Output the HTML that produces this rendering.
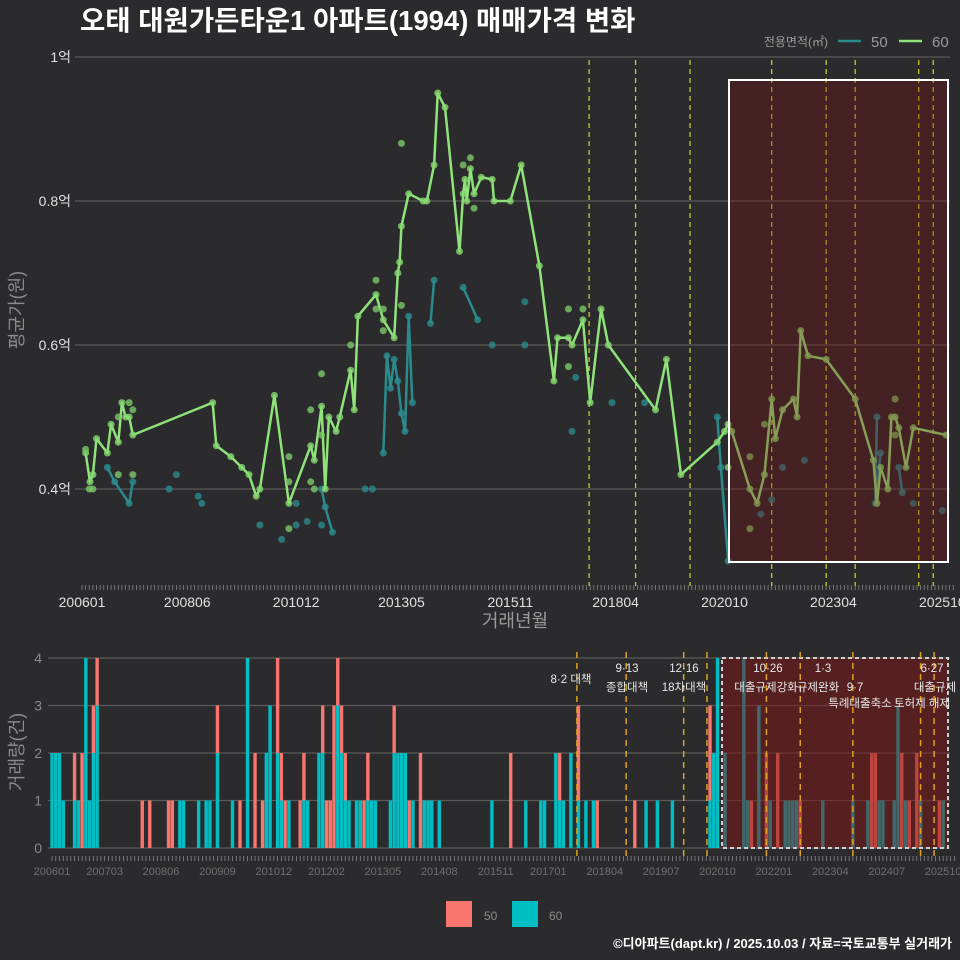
<!DOCTYPE html>
<html><head><meta charset="utf-8">
<style>
html,body{margin:0;padding:0;background:#2b2b2d;}
svg{display:block;font-family:"Liberation Sans","Noto Sans CJK KR",sans-serif;}
</style></head>
<body>
<svg id="chart" width="960" height="960" viewBox="0 0 960 960" xmlns="http://www.w3.org/2000/svg">
<rect x="0" y="0" width="960" height="960" fill="#2b2b2d"/>
<text x="80" y="30" fill="#ffffff" font-size="27.5" font-weight="bold">오태 대원가든타운1 아파트(1994) 매매가격 변화</text>
<g>
<text x="828" y="46" fill="#9a9a9a" font-size="12" text-anchor="end">전용면적(㎡)</text>
<line x1="838" y1="41" x2="861" y2="41" stroke="#2a8a8c" stroke-width="2.5"/>
<text x="871" y="47" fill="#9a9a9a" font-size="15">50</text>
<line x1="899" y1="41" x2="922" y2="41" stroke="#90e27a" stroke-width="2.5"/>
<text x="932" y="47" fill="#9a9a9a" font-size="15">60</text>
</g>
<g id="topPanel"></g>
<g id="botPanel"></g>
<g>
<rect x="446" y="901" width="26" height="26" fill="#f8766d"/>
<text x="484" y="920" fill="#8a8a8a" font-size="12">50</text>
<rect x="512" y="901" width="26" height="26" fill="#00bfc4"/>
<text x="549" y="920" fill="#8a8a8a" font-size="12">60</text>
</g>
<text x="952" y="948" fill="#ffffff" font-size="13" font-weight="bold" text-anchor="end">©디아파트(dapt.kr) / 2025.10.03 / 자료=국토교통부 실거래가</text>
</svg>
<script>
// ---- price chart data (month index from 2006-01, value in 억) ----
const gMonths = [1,2.2,3,4,7,8,10,11,12,13,14,36,37,41,44,46,48,49,53,57,63,64,66,67,68,70,71,74,75,76,81,83,86,87,87.5,88,90,94,95,97,98,100,104,105,105.5,106,107,108,110,113,113.5,118,121,126,130,131,134,135,138,140,143,145,158,161,165,175,177,178,179,184,186,188,190,191,193,196,197,198,200,205,213,218,219,220,222,223,224,225,227,229,238];
const gVals = [0.45,0.41,0.42,0.47,0.45,0.49,0.465,0.52,0.50,0.50,0.475,0.52,0.46,0.445,0.43,0.42,0.39,0.40,0.53,0.38,0.46,0.44,0.515,0.40,0.50,0.48,0.50,0.565,0.51,0.64,0.67,0.635,0.61,0.70,0.715,0.765,0.81,0.80,0.80,0.85,0.95,0.93,0.73,0.81,0.83,0.80,0.845,0.81,0.833,0.83,0.80,0.80,0.85,0.71,0.55,0.61,0.61,0.60,0.635,0.52,0.65,0.60,0.51,0.58,0.42,0.465,0.48,0.49,0.48,0.40,0.38,0.42,0.525,0.47,0.51,0.525,0.50,0.62,0.585,0.58,0.525,0.44,0.38,0.43,0.40,0.50,0.50,0.485,0.43,0.485,0.475];
const gDotMonths = [1,2,3,10,10,14,13,14,57,57,63,63,64,66,66,74,81,81,83,83,88,88,105,107,108,57,134,138,134,184,184,188,224,224,178];
const gDotVals = [0.455,0.40,0.40,0.50,0.42,0.42,0.52,0.51,0.445,0.41,0.51,0.41,0.40,0.56,0.475,0.60,0.69,0.65,0.65,0.62,0.88,0.655,0.85,0.86,0.79,0.345,0.65,0.65,0.57,0.445,0.345,0.49,0.525,0.475,0.43];
const tSegMonths = [[7,9,13,14],[66,67,69],[83,84,85,86,87,88,89,90,91],[96,97],[105,109],[175,176,178],[219,218.5,220],[225,226]];
const tSegVals = [[0.43,0.41,0.38,0.41],[0.40,0.375,0.34],[0.45,0.585,0.54,0.58,0.55,0.505,0.48,0.64,0.52],[0.63,0.69],[0.68,0.635],[0.50,0.43,0.30],[0.50,0.38,0.45],[0.43,0.395]];
const tDotMonths = [24,26,32,33,49,55,59,59,62,66,78,80,113,122,122,135,136,146,155,187,190,193,199,229,237];
const tDotVals = [0.40,0.42,0.39,0.38,0.35,0.33,0.35,0.38,0.355,0.35,0.40,0.40,0.60,0.66,0.60,0.48,0.555,0.52,0.52,0.365,0.385,0.43,0.44,0.38,0.37];
const topYTicks = [0.4,0.6,0.8,1.0];
const topYLabels = ["0.4억","0.6억","0.8억","1억"];
const topXTickMonths = [0,29,59,88,118,147,177,207,237];
const topXTickLabels = ["200601","200806","201012","201305","201511","201804","202010","202304","202510"];
const topPolicyMonths = [139.7,152.5,167.5,190,205,213,230.5,234.5];

// ---- volume chart data ----
const b50Months = [6,8,11,12,24,26,31,32,44,50,54,56,60,61,62,66,67,72,73,74,75,76,77,78,83,84,91,95,98,122,135,140,145,155,175,186,190,193,199,218,219,226,228,230,236];
const b50Counts = [1,2,1,1,1,1,1,1,1,1,2,1,2,1,1,1,1,1,1,1,3,1,1,1,1,1,1,1,2,2,1,2,1,1,2,1,2,2,1,2,2,2,1,2,1];
const b60Months = [0,1,2,3,6,7,9,10,11,12,34,35,39,41,42,44,48,52,57,58,60,61,63,67,68,71,72,76,77,78,79,81,82,84,85,86,90,91,92,93,94,96,99,100,101,103,117,126,130,131,134,135,136,138,140,142,144,158,161,165,175,176,177,179,184,185,188,191,195,196,197,198,205,213,217,220,221,224,225,227,231,237];
const b60Counts = [2,2,2,1,1,1,4,1,2,3,1,1,1,1,1,2,1,4,2,3,2,1,1,1,1,2,2,3,2,1,1,1,1,1,1,1,1,2,2,2,2,1,1,1,1,1,1,1,1,1,2,1,1,2,1,1,1,1,1,1,1,2,4,2,4,1,3,1,1,1,1,1,1,1,1,1,1,1,3,1,1,1];
const botYTicks = [0,1,2,3,4];
const botXTickMonths = [0,14,29,44,59,73,88,103,118,132,147,162,177,192,207,222,237];
const botXTickLabels = ["200601","200703","200806","200909","201012","201202","201305","201408","201511","201701","201804","201907","202010","202201","202304","202407","202510"];
const botPolicyMonths = [139.6,152.7,168,174.2,190,199,213,231,234.6];

const NS = "http://www.w3.org/2000/svg";
function mk(tag, attrs, parent){const e=document.createElementNS(NS,tag);for(const k in attrs)e.setAttribute(k,attrs[k]);parent.appendChild(e);return e;}
const topG = document.getElementById('topPanel');
const botG = document.getElementById('botPanel');
const tx = m => 82 + m*3.63;
const ty = v => 489 - (v-0.4)*720;
const bx = m => 52 + m*3.76;
const by = c => 848 - c*47.5;

// --- top panel ---
topYTicks.forEach((v,i)=>{
  const l = mk('line',{x1:75,x2:950,y1:ty(v),y2:ty(v),stroke:'#5a5a5a','stroke-width':1.3},topG);
  
  
  const t = mk('text',{x:71,y:ty(v)+5,fill:'#e0e0e0','font-size':14,'text-anchor':'end'},topG);
  t.textContent = topYLabels[i];
  
  
});
for(let m=0;m<=240;m++){
  const k = mk('line',{x1:tx(m),x2:tx(m),y1:585,y2:590,stroke:'#888','stroke-width':0.8},topG);
  
  
}
topXTickMonths.forEach((m,i)=>{
  const t = mk('text',{x:tx(m),y:607,fill:'#e0e0e0','font-size':14,'text-anchor':'middle'},topG);
  t.textContent = topXTickLabels[i];
  
  
});
{
  const t = mk('text',{x:515,y:627,fill:'#9a9a9a','font-size':18,'text-anchor':'middle'},topG);
  t.textContent='거래년월';
  
  
  const t2 = mk('text',{x:0,y:0,fill:'#8a8a8a','font-size':18,'text-anchor':'middle',transform:'translate(23,310) rotate(-90)'},topG);
  t2.textContent='평균가(원)';
  
  
}
topPolicyMonths.forEach(m=>{
  const l = mk('line',{x1:tx(m),x2:tx(m),y1:60,y2:586,stroke:'#d4d42a','stroke-width':1.2,'stroke-dasharray':'5,4'},topG);
  
  
});
tSegMonths.forEach((seg,si)=>{
  const pts = seg.map((m,j)=>tx(m)+','+ty(tSegVals[si][j])).join(' ');
  const p = mk('polyline',{points:pts,fill:'none',stroke:'#2a8a8c','stroke-width':2.5,'stroke-linejoin':'round'},topG);
  
  
  seg.forEach((m,j)=>{
    const c = mk('circle',{cx:tx(m),cy:ty(tSegVals[si][j]),r:3.5,fill:'#2a8a8c','fill-opacity':0.85},topG);
    
    
  });
});
tDotMonths.forEach((m,i)=>{
  const c = mk('circle',{cx:tx(m),cy:ty(tDotVals[i]),r:3.5,fill:'#2a8a8c','fill-opacity':0.8},topG);
  
  
});
{
  const pts = gMonths.map((m,i)=>tx(m)+','+ty(gVals[i])).join(' ');
  const p = mk('polyline',{points:pts,fill:'none',stroke:'#90e27a','stroke-width':2.5,'stroke-linejoin':'round'},topG);
  
  
  gMonths.forEach((m,i)=>{
    const c = mk('circle',{cx:tx(m),cy:ty(gVals[i]),r:3.5,fill:'#86d870','fill-opacity':0.8},topG);
    
    
  });
  gDotMonths.forEach((m,i)=>{
    const c = mk('circle',{cx:tx(m),cy:ty(gDotVals[i]),r:3.5,fill:'#7cc868','fill-opacity':0.8},topG);
    
    
  });
}
{
  const r = mk('rect',{x:729,y:80,width:219,height:482,fill:'rgb(120,16,16)','fill-opacity':0.32,stroke:'#ffffff','stroke-width':2},topG);
  
  
}

// --- bottom panel ---
botYTicks.forEach(c=>{
  const l = mk('line',{x1:48,x2:950,y1:by(c),y2:by(c),stroke:'#5a5a5a','stroke-width':1.3},botG);
  
  
  const t = mk('text',{x:42,y:by(c)+5,fill:'#8a8a8a','font-size':14,'text-anchor':'end'},botG);
  t.textContent = String(c);
  
  
});
for(let m=0;m<=240;m++){
  const k = mk('line',{x1:bx(m),x2:bx(m),y1:856,y2:861,stroke:'#888','stroke-width':0.8},botG);
  
  
}
botXTickMonths.forEach((m,i)=>{
  const t = mk('text',{x:bx(m),y:875,fill:'#6f6f6f','font-size':11,'text-anchor':'middle'},botG);
  t.textContent = botXTickLabels[i];
  
  
});
{
  const t2 = mk('text',{x:0,y:0,fill:'#8a8a8a','font-size':18,'text-anchor':'middle',transform:'translate(23,752) rotate(-90)'},botG);
  t2.textContent='거래량(건)';
  
  
}
const bw = 3.4;
const tealBase = {};
b60Months.forEach((m,i)=>{
  tealBase[m]=b60Counts[i];
  const r = mk('rect',{x:bx(m)-bw/2,y:by(b60Counts[i]),width:bw,height:by(0)-by(b60Counts[i]),fill:'#00bfc4'},botG);
  
  
});
b50Months.forEach((m,i)=>{
  const base = tealBase[m]||0;
  const r = mk('rect',{x:bx(m)-bw/2,y:by(base+b50Counts[i]),width:bw,height:by(base)-by(base+b50Counts[i]),fill:'#f8766d'},botG);
  
  
});
{
  const r = mk('rect',{x:722,y:658,width:226,height:190,fill:'rgb(130,20,20)','fill-opacity':0.5,stroke:'#cfcfcf','stroke-width':2,'stroke-dasharray':'4,3'},botG);
  
  
}
botPolicyMonths.forEach(m=>{
  const l = mk('line',{x1:bx(m),x2:bx(m),y1:652,y2:856,stroke:'#e0a020','stroke-width':1.5,'stroke-dasharray':'6,5'},botG);
  
  
});
const ann = [[571,683,'8·2 대책'],[627,672,'9·13'],[627,691,'종합대책'],[684,672,'12·16'],[684,691,'18차대책'],[768,672,'10·26'],[766,691,'대출규제강화'],[823,672,'1·3'],[818,691,'규제완화'],[855,691,'9·7'],[860,707,'특례대출축소'],[922,707,'토허제 해제'],[932,672,'6·27'],[935,691,'대출규제']];
ann.forEach(a=>{
  const t = mk('text',{x:a[0],y:a[1],fill:'#e8e8e8','font-size':11.5,'text-anchor':'middle'},botG);
  t.textContent=a[2];
  
  
});
</script>
</body></html>
